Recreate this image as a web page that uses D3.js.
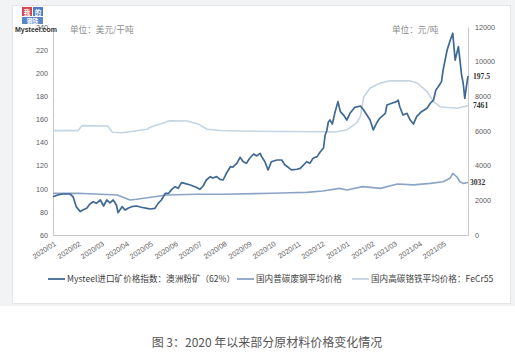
<!DOCTYPE html>
<html>
<head>
<meta charset="utf-8">
<script src="https://cdn.jsdelivr.net/npm/d3@7"></script>
<style>
  html, body { margin: 0; padding: 0; background: #ffffff; }
  svg { display: block; }
</style>
</head>
<body>
<svg id="chart" width="515" height="362"></svg>
<script>
//----------------------------//
//            DATA            //
//----------------------------//
const oreDates = ["2020-01-01","2020-01-07","2020-01-13","2020-01-22","2020-01-26","2020-01-30","2020-02-04","2020-02-07","2020-02-12","2020-02-16","2020-02-20","2020-02-24","2020-02-29","2020-03-04","2020-03-08","2020-03-12","2020-03-16","2020-03-20","2020-03-22","2020-03-27","2020-03-31","2020-04-04","2020-04-08","2020-04-14","2020-04-20","2020-04-27","2020-05-01","2020-05-07","2020-05-11","2020-05-15","2020-05-20","2020-05-24","2020-05-28","2020-06-01","2020-06-05","2020-06-09","2020-06-13","2020-06-20","2020-06-26","2020-07-02","2020-07-06","2020-07-10","2020-07-15","2020-07-18","2020-07-23","2020-07-27","2020-07-31","2020-08-04","2020-08-09","2020-08-12","2020-08-17","2020-08-21","2020-08-25","2020-08-29","2020-09-02","2020-09-07","2020-09-11","2020-09-15","2020-09-17","2020-09-21","2020-09-25","2020-09-29","2020-10-06","2020-10-12","2020-10-16","2020-10-20","2020-10-24","2020-10-31","2020-11-04","2020-11-12","2020-11-16","2020-11-20","2020-11-25","2020-11-29","2020-12-03","2020-12-05","2020-12-07","2020-12-09","2020-12-11","2020-12-14","2020-12-17","2020-12-21","2020-12-24","2020-12-28","2021-01-01","2021-01-05","2021-01-11","2021-01-18","2021-01-22","2021-01-26","2021-01-30","2021-02-03","2021-02-07","2021-02-11","2021-02-18","2021-02-20","2021-02-26","2021-03-04","2021-03-06","2021-03-08","2021-03-12","2021-03-17","2021-03-21","2021-03-25","2021-03-29","2021-04-04","2021-04-11","2021-04-15","2021-04-19","2021-04-22","2021-04-25","2021-04-29","2021-05-01","2021-05-06","2021-05-10","2021-05-13","2021-05-16","2021-05-18","2021-05-20","2021-05-22","2021-05-24","2021-05-26","2021-05-28","2021-05-30","2021-06-01"];
const oreValues = [93.1,94.6,95.5,95.5,93.1,84.5,80.2,81.6,83.1,86.8,88.8,87.4,90.3,85.1,90.3,87.7,90.3,86.0,79.3,84.5,81.6,83.4,84.5,85.1,84.0,83.1,82.5,83.1,87.4,90.3,96.1,96.1,99.5,101.8,100.4,105.3,104.7,103.3,101.8,99.5,102.4,107.6,110.5,109.3,110.5,108.2,107.6,113.4,119.1,118.8,122.0,127.2,123.4,122.0,126.4,130.1,128.4,130.7,127.8,123.4,116.3,123.4,124.9,124.9,120.6,118.6,116.3,116.9,117.7,123.4,122.0,126.4,127.8,132.1,135.3,146.5,150.0,157.8,159.5,156.0,165.3,175.4,166.7,163.8,159.5,165.3,170.5,171.6,168.2,163.8,159.5,150.9,156.7,161.0,165.3,172.5,174.0,175.4,176.8,171.0,163.8,165.3,159.5,156.0,162.4,166.7,169.6,174.0,176.8,185.5,188.3,192.7,202.8,220.1,228.8,234.6,211.4,217.2,223.0,211.4,198.5,191.3,178.3,188.3,197.5];

const scrapDates = ["2020-01-01","2020-02-01","2020-03-21","2020-04-06","2020-04-14","2020-05-22","2020-06-28","2020-07-31","2020-10-01","2020-10-22","2020-11-12","2020-12-02","2020-12-23","2021-01-01","2021-01-21","2021-02-12","2021-03-05","2021-03-25","2021-04-15","2021-05-01","2021-05-10","2021-05-13","2021-05-18","2021-05-22","2021-05-26","2021-06-01"];
const scrapValues = [2400,2410,2310,2020,2060,2310,2350,2350,2410,2440,2460,2540,2690,2600,2790,2690,2940,2890,2980,3075,3290,3560,3360,3075,2980,3032];

const fecrDates = ["2020-01-01","2020-02-01","2020-02-06","2020-03-09","2020-03-15","2020-03-28","2020-04-27","2020-05-01","2020-05-22","2020-05-26","2020-06-16","2020-06-30","2020-07-11","2020-07-27","2020-08-21","2020-10-10","2020-12-02","2020-12-17","2021-01-01","2021-01-13","2021-01-18","2021-01-22","2021-01-30","2021-02-12","2021-02-24","2021-03-21","2021-03-30","2021-04-11","2021-04-19","2021-04-27","2021-05-18","2021-06-01"];
const fecrValues = [6020,6020,6310,6290,5930,5900,6100,6210,6540,6595,6580,6400,6100,6030,6000,5970,5960,5940,6060,6460,6830,7960,8480,8770,8900,8890,8770,8270,7690,7400,7310,7461];

const monthTicks = ["2020/01","2020/02","2020/03","2020/04","2020/05","2020/06","2020/07","2020/08","2020/09","2020/10","2020/11","2020/12","2021/01","2021/02","2021/03","2021/04","2021/05"];
const leftTicks = [60,80,100,120,140,160,180,200,220,240];
const rightTicks = [0,2000,4000,6000,8000,10000,12000];

const seriesNames = ["Mysteel进口矿价格指数：澳洲粉矿（62%）","国内普碳废钢平均价格","国内高碳铬铁平均价格：FeCr55"];
const endLabels = ["197.5","7461","3032"];

//----------------------------//
//            CHART           //
//----------------------------//
const parseDate = d3.timeParse("%Y-%m-%d");
const parseMonth = d3.timeParse("%Y/%m");

const plot = { left: 53, right: 468, top: 27, bottom: 235 };
const colors = { ore: "#3f6993", scrap: "#8ba3c7", fecr: "#c4d4e4" };
const cjk = "'Noto Sans CJK SC', 'Noto Sans', sans-serif";

const svg = d3.select("#chart");

// page + card background
svg.append("rect").attr("x", 0).attr("y", 0).attr("width", 515).attr("height", 306).attr("fill", "#f2f3f5");
svg.append("rect").attr("x", 12.5).attr("y", 5.5).attr("width", 498).attr("height", 298)
    .attr("fill", "#ffffff").attr("stroke", "#e4e5e8");

const x = d3.scaleTime()
    .domain([parseDate(oreDates[0]), parseDate(oreDates[oreDates.length - 1])])
    .range([plot.left, plot.right]);

const yLeft = d3.scaleLinear().domain([60, 240]).range([plot.bottom, plot.top]);
const yRight = d3.scaleLinear().domain([0, 12000]).range([plot.bottom, plot.top]);

// axes
const axisColor = "#c9c9c9";
const leftAxis = svg.append("g")
    .attr("transform", `translate(${plot.left},0)`)
    .call(d3.axisLeft(yLeft).tickValues(leftTicks).tickSize(0).tickPadding(5));
const rightAxis = svg.append("g")
    .attr("transform", `translate(${plot.right},0)`)
    .call(d3.axisRight(yRight).tickValues(rightTicks).tickSize(0).tickPadding(7).tickFormat(d3.format("d")));
const bottomAxis = svg.append("g")
    .attr("transform", `translate(0,${plot.bottom})`)
    .call(d3.axisBottom(x).tickValues(monthTicks.map(parseMonth)).tickSize(0).tickFormat(d3.timeFormat("%Y/%m")));

[leftAxis, rightAxis, bottomAxis].forEach(g => {
    g.select(".domain").attr("stroke", axisColor).attr("stroke-width", 1);
    g.selectAll("text").attr("fill", "#595959").attr("font-family", "'Liberation Sans', Arial, sans-serif").attr("font-size", 7.2);
});

bottomAxis.selectAll(".tick text")
    .attr("text-anchor", "end")
    .attr("y", 0)
    .attr("dy", 0)
    .attr("transform", "translate(3,10) rotate(-33)");

// lines
const oreData = oreDates.map((d, i) => ({ date: parseDate(d), value: oreValues[i] }));
const scrapData = scrapDates.map((d, i) => ({ date: parseDate(d), value: scrapValues[i] }));
const fecrData = fecrDates.map((d, i) => ({ date: parseDate(d), value: fecrValues[i] }));

const lineLeft = d3.line().x(d => x(d.date)).y(d => yLeft(d.value));
const lineRight = d3.line().x(d => x(d.date)).y(d => yRight(d.value));

svg.append("path").datum(fecrData)
    .attr("fill", "none").attr("stroke", colors.fecr).attr("stroke-width", 1.6)
    .attr("stroke-linejoin", "round").attr("d", lineRight);
svg.append("path").datum(scrapData)
    .attr("fill", "none").attr("stroke", colors.scrap).attr("stroke-width", 1.6)
    .attr("stroke-linejoin", "round").attr("d", lineRight);
svg.append("path").datum(oreData)
    .attr("fill", "none").attr("stroke", colors.ore).attr("stroke-width", 1.7)
    .attr("stroke-linejoin", "round").attr("d", lineLeft);

// end value labels
const lastOre = oreData[oreData.length - 1];
const lastFecr = fecrData[fecrData.length - 1];
const lastScrap = scrapData[scrapData.length - 1];
const endG = svg.append("g")
    .attr("font-family", "'Liberation Serif', serif").attr("font-weight", "bold")
    .attr("font-size", 7.6).attr("fill", "#333333");
endG.append("text").attr("x", plot.right + 5).attr("y", yLeft(lastOre.value)).attr("dy", "0.35em").text(endLabels[0]);
endG.append("text").attr("x", plot.right + 5).attr("y", yRight(lastFecr.value)).attr("dy", "0.35em").text(endLabels[1]);
endG.append("text").attr("x", plot.right + 2).attr("y", yRight(lastScrap.value)).attr("dy", "0.35em").text(endLabels[2]);

// unit labels
svg.append("text").attr("x", 70).attr("y", 33).attr("font-family", cjk).attr("font-size", 8.6)
    .attr("fill", "#8c8c8c").text("单位：美元/干吨");
svg.append("text").attr("x", 392).attr("y", 33).attr("font-family", cjk).attr("font-size", 8.6)
    .attr("fill", "#8c8c8c").text("单位：元/吨");

// logo (sits over the 240 tick, as in the source picture)
const logo = svg.append("g").attr("font-family", cjk).attr("font-weight", "bold").attr("fill", "#ffffff")
    .attr("text-anchor", "middle");
logo.append("rect").attr("x", 22).attr("y", 7).attr("width", 10).attr("height", 9).attr("fill", "#d9434b");
logo.append("rect").attr("x", 33).attr("y", 7).attr("width", 10).attr("height", 9).attr("fill", "#4f7cc0");
logo.append("rect").attr("x", 22).attr("y", 17).attr("width", 21).attr("height", 7).attr("fill", "#5b86c6");
logo.append("text").attr("x", 27).attr("y", 14.5).attr("font-size", 6.5).text("我");
logo.append("text").attr("x", 38).attr("y", 14.5).attr("font-size", 6.5).text("的");
logo.append("text").attr("x", 32.5).attr("y", 22.8).attr("font-size", 5.8).text("钢铁");
svg.append("text").attr("x", 15).attr("y", 32).attr("font-family", "'Liberation Sans', Arial, sans-serif")
    .attr("font-weight", "bold").attr("font-size", 7).attr("fill", "#333333").text("Mysteel.com");

// legend
const legendItems = [
    { name: seriesNames[0], color: colors.ore, x0: 48 },
    { name: seriesNames[1], color: colors.scrap, x0: 237 },
    { name: seriesNames[2], color: colors.fecr, x0: 352 }
];
const legend = svg.append("g").attr("transform", "translate(0,279)");
legendItems.forEach(item => {
    legend.append("line").attr("x1", item.x0).attr("x2", item.x0 + 17).attr("y1", 0).attr("y2", 0)
        .attr("stroke", item.color).attr("stroke-width", 1.8);
    legend.append("text").attr("x", item.x0 + 19).attr("y", 0).attr("dy", "0.35em")
        .attr("font-family", cjk).attr("font-size", 8.6).attr("fill", "#404040").text(item.name);
});

// caption
svg.append("text").attr("x", 267).attr("y", 347).attr("text-anchor", "middle")
    .attr("font-family", cjk).attr("font-size", 12).attr("fill", "#555555")
    .text("图 3：2020 年以来部分原材料价格变化情况");
</script>
</body>
</html>
